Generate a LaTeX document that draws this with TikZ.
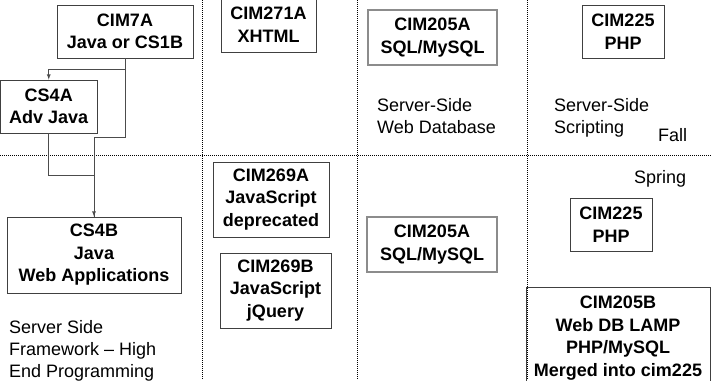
\documentclass[tikz,border=0pt]{standalone}
\usepackage{fontspec}
\setmainfont{Liberation Sans}
\usepackage{tikz}
\usetikzlibrary{positioning}
\tikzstyle{crs}=[draw=black!75,line width=.8pt,inner sep=0pt,align=center,font=\fontsize{18}{22.5}\selectfont\bfseries]
\tikzstyle{dbx}=[crs,draw=black!45,line width=1.4pt]
\tikzstyle{note}=[inner sep=0pt,anchor=north west,align=left,font=\fontsize{18}{22}\selectfont]
\tikzstyle{sep}=[black,line width=1pt,dash pattern=on 1pt off 1pt]
\tikzstyle{lnk}=[black!70,line width=.8pt]

\begin{document}
\begin{tikzpicture}[x=1pt,y=-1pt]
    \useasboundingbox (0,0) rectangle (711,380);
    \foreach \gx in {202,357,527} \draw[sep] (\gx,0) -- (\gx,380);
    \draw[sep] (0,155) -- (711,155);
    \node[crs,minimum width=136,minimum height=53] (cim7a) at (125,31.5) {CIM7A\\Java or CS1B};
    \node[crs,minimum width=96.5,minimum height=53] (cs4a) at (48.75,106.5) {CS4A\\Adv Java};
    \node[crs,minimum width=174,minimum height=76] (cs4b) at (94,255) {CS4B\\Java\\Web Applications};
    \node[crs,minimum width=95,minimum height=55] (cim271a) at (268.5,24.5) {CIM271A\\XHTML};
    \node[crs,minimum width=116,minimum height=75] (cim269a) at (271,199.5) {CIM269A\\JavaScript\\deprecated};
    \node[crs,minimum width=111,minimum height=75] (cim269b) at (275.5,290.5) {CIM269B\\JavaScript\\jQuery};
    \node[dbx,minimum width=129,minimum height=55] (cim205a) at (432.5,37.5) {CIM205A\\SQL/MySQL};
    \node[dbx,minimum width=130,minimum height=55] (cim205aS) at (432,244.5) {CIM205A\\SQL/MySQL};
    \node[crs,minimum width=82,minimum height=53] (cim225) at (623,31.5) {CIM225\\PHP};
    \node[crs,minimum width=82,minimum height=53] (cim225S) at (611,224.5) {CIM225\\PHP};
    \node[crs,minimum width=184,minimum height=102] (cim205b) at (618,338) {CIM205B\\Web DB LAMP\\PHP/MySQL\\Merged into cim225};
    \node[note] (ssfw) at (9,320) {Server Side\\Framework -- High\\End Programming};
    \node[note] (swdb) at (377,98) {Server-Side\\Web Database};
    \node[note] (sscr) at (554,98) {Server-Side\\Scripting};
    \node[note] (fall) at (658,128) {Fall};
    \node[note] (spring) at (634,170) {Spring};
    \draw[lnk,-latex] (cim7a.south) -- ++(0,11) -| (cs4a.north);
    \draw[lnk] (cs4a.south) -- ++(0,42) -| (cs4b.north);
    \draw[lnk,-latex] (cim7a.south) -- ++(0,79) -| (cs4b.north);
\end{tikzpicture}
\end{document}
